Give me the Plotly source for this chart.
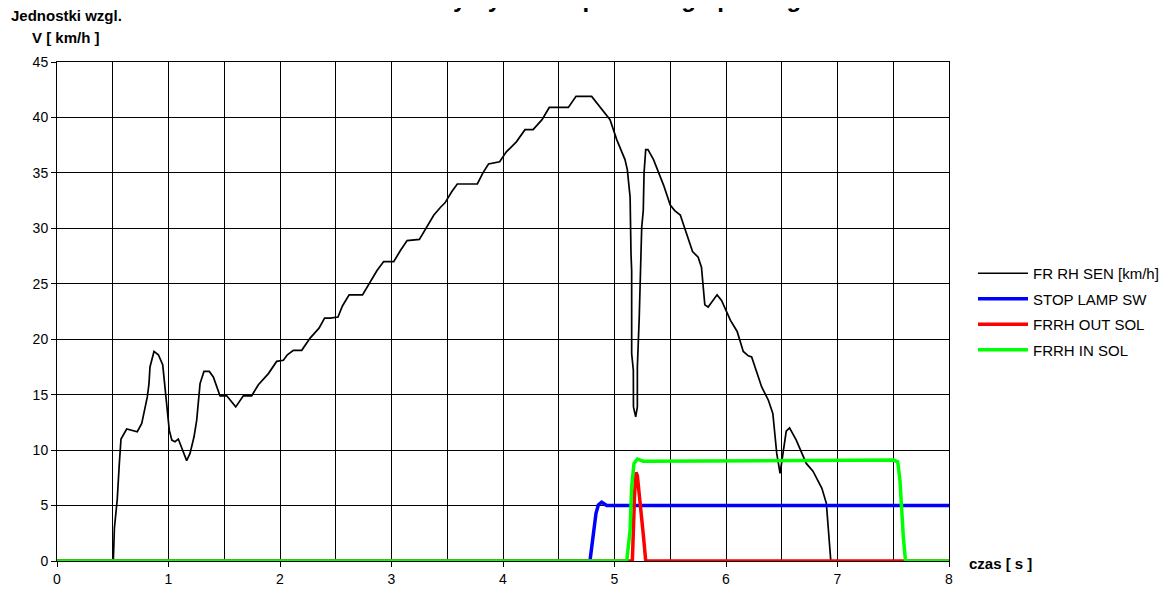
import plotly.graph_objects as go

# ---- data ----
speed_t = [0, 0.505, 0.515, 0.54, 0.559, 0.574, 0.625, 0.67, 0.72, 0.76, 0.81, 0.825, 0.834, 0.87,
           0.909, 0.948, 0.969, 0.984, 1.007, 1.03, 1.058, 1.088, 1.127, 1.163, 1.193, 1.229, 1.253,
           1.283, 1.318, 1.366, 1.402, 1.432, 1.462, 1.522, 1.566, 1.603, 1.671, 1.746, 1.806, 1.896,
           1.97, 2.03, 2.066, 2.12, 2.195, 2.27, 2.35, 2.40, 2.45, 2.52, 2.56, 2.62, 2.74, 2.80, 2.87,
           2.93, 3.02, 3.08, 3.14, 3.25, 3.31, 3.38, 3.44, 3.48, 3.54, 3.59, 3.77, 3.82, 3.87, 3.95,
           3.97, 4.03, 4.12, 4.197, 4.27, 4.35, 4.415, 4.586, 4.655, 4.795, 4.90, 4.96, 5.02, 5.094,
           5.115, 5.14, 5.148, 5.154, 5.154, 5.169, 5.17, 5.19, 5.205, 5.205, 5.222, 5.235, 5.244,
           5.258, 5.265, 5.28, 5.30, 5.35, 5.44, 5.50, 5.54, 5.59, 5.65, 5.70, 5.75, 5.78, 5.81, 5.84,
           5.92, 5.96, 6.04, 6.10, 6.155, 6.20, 6.23, 6.32, 6.38, 6.42, 6.455, 6.485, 6.54, 6.57, 6.63,
           6.72, 6.78, 6.86, 6.90, 6.92, 6.94, 8.0]
speed_v = [0, 0, 3.0, 5.5, 8.8, 11.0, 11.9, 11.8, 11.66, 12.4, 14.8, 16.0, 17.5, 18.9,
           18.6, 17.7, 15.7, 13.9, 11.8, 10.9, 10.76, 11.0, 10.0, 9.05, 9.7, 11.2, 12.7,
           16.0, 17.1, 17.1, 16.6, 15.7, 14.9, 14.9, 14.4, 13.9, 14.9, 14.9, 15.9, 16.9,
           18.0, 18.1, 18.6, 19.0, 19.0, 20.1, 21.0, 21.9, 21.9, 22.0, 23.0, 24.0, 24.0, 25.0, 26.2,
           27.0, 27.0, 28.0, 28.9, 29.0, 30.0, 31.2, 31.9, 32.3, 33.3, 34.0, 34.0, 35.0, 35.8, 36.0,
           36.0, 36.9, 37.8, 38.9, 38.9, 39.8, 40.9, 40.9, 41.9, 41.9, 40.5, 39.8, 38.0, 36.2,
           35.3, 32.8, 27.7, 26.2, 18.7, 17.2, 13.9, 13.0, 13.9, 17.5, 22.0, 26.2, 30.1,
           31.6, 35.0, 37.1, 37.1, 36.2, 33.9, 32.1, 31.6, 31.2, 29.4, 27.9, 27.4, 26.5, 23.1, 22.9,
           24.0, 23.5, 21.7, 20.7, 18.9, 18.5, 18.4, 15.7, 14.5, 13.3, 9.7, 7.9, 11.7, 12.0, 10.9,
           8.8, 8.1, 6.55, 5.2, 2.5, 0.0, 0.0]

stop_t = [0, 4.78, 4.834, 4.855, 4.885, 4.93, 8.0]
stop_v = [0, 0, 4.3, 5.05, 5.3, 5.0, 5.0]

out_t = [0, 5.16, 5.18, 5.193, 5.205, 5.23, 5.26, 5.28, 8.0]
out_v = [0, 0, 6.0, 8.0, 7.7, 5.5, 2.2, 0, 0]

in_t = [0, 5.11, 5.14, 5.154, 5.175, 5.205, 5.258, 7.50, 7.54, 7.56, 7.59, 7.61, 8.0]
in_v = [0, 0, 2.8, 6.7, 8.8, 9.2, 9.0, 9.1, 8.95, 7.3, 2.2, 0, 0]

series_names = ["FR RH SEN [km/h]", "STOP LAMP SW", "FRRH OUT SOL", "FRRH IN SOL"]
x_ticks = [0, 1, 2, 3, 4, 5, 6, 7, 8]
y_ticks = [0, 5, 10, 15, 20, 25, 30, 35, 40, 45]

title_text = "Charakterystyki koła przedniego prawego"
ytitle1 = "Jednostki wzgl."
ytitle2 = "V [ km/h ]"
xtitle = "czas [ s ]"

FONT = "Liberation Sans, Arial, sans-serif"

fig = go.Figure()
fig.add_trace(go.Scatter(x=speed_t, y=speed_v, mode="lines", name=series_names[0],
                         line=dict(color="black", width=1.7), legendgroup="a"))
fig.add_trace(go.Scatter(x=stop_t, y=stop_v, mode="lines", name=series_names[1],
                         line=dict(color="#0000ff", width=3.5), legendgroup="b"))
fig.add_trace(go.Scatter(x=out_t, y=out_v, mode="lines", name=series_names[2],
                         line=dict(color="#ff0000", width=3.5), legendgroup="c"))
fig.add_trace(go.Scatter(x=in_t, y=in_v, mode="lines", name=series_names[3],
                         line=dict(color="#00ff00", width=3.5), legendgroup="d"))

# page offset of the figure (body margin) and target plot-area box in page pixels
OFF = 8
W, H = 1172 - OFF, 596 - OFF
X0, X1, Y0, Y1 = 57, 949, 62, 561   # plot area in page pixels
L, R, T, B = X0 - OFF, (W + OFF) - X1, Y0 - OFF, (H + OFF) - Y1
pw, ph = X1 - X0, Y1 - Y0

def px_x(p):
    return (p - X0) / pw

def px_y(p):
    return (Y1 - p) / ph

fig.update_layout(
    width=W, height=H,
    margin=dict(l=L, r=R, t=T, b=B, autoexpand=False),
    paper_bgcolor="white", plot_bgcolor="white",
    font=dict(family=FONT, size=14, color="black"),
    showlegend=True,
    legend=dict(x=px_x(973), y=px_y(257), xanchor="left", yanchor="top",
                font=dict(size=15, family=FONT, color="black"),
                tracegroupgap=3, itemwidth=50, bgcolor="rgba(0,0,0,0)"),
    xaxis=dict(range=[0, 8], tickvals=x_ticks, ticktext=[str(v) for v in x_ticks],
               showgrid=True, gridcolor="black", gridwidth=1,
               minor=dict(dtick=0.5, showgrid=True, gridcolor="black", gridwidth=1),
               showline=True, linecolor="black", linewidth=1, mirror=True,
               ticks="outside", ticklen=5, tickcolor="black", zeroline=False,
               tickfont=dict(size=14, family=FONT)),
    yaxis=dict(range=[0, 45], tickvals=y_ticks, ticktext=[str(v) for v in y_ticks],
               showgrid=True, gridcolor="black", gridwidth=1,
               showline=True, linecolor="black", linewidth=1, mirror=True,
               ticks="outside", ticklen=5, tickcolor="black", zeroline=False,
               tickfont=dict(size=14, family=FONT)),
)

fig.add_annotation(text="<b>" + title_text + "</b>", xref="paper", yref="paper",
                   x=px_x(578), y=px_y(14), xanchor="center", yanchor="bottom",
                   showarrow=False, font=dict(size=24, family=FONT, color="black"))
fig.add_annotation(text="<b>" + ytitle1 + "</b>", xref="paper", yref="paper",
                   x=px_x(9), y=px_y(16), xanchor="left", yanchor="middle",
                   showarrow=False, font=dict(size=15, family=FONT, color="black"))
fig.add_annotation(text="<b>" + ytitle2 + "</b>", xref="paper", yref="paper",
                   x=px_x(30), y=px_y(37), xanchor="left", yanchor="middle",
                   showarrow=False, font=dict(size=15, family=FONT, color="black"))
fig.add_annotation(text="<b>" + xtitle + "</b>", xref="paper", yref="paper",
                   x=px_x(967), y=px_y(563), xanchor="left", yanchor="middle",
                   showarrow=False, font=dict(size=15, family=FONT, color="black"))

fig.write_html("out.html")
